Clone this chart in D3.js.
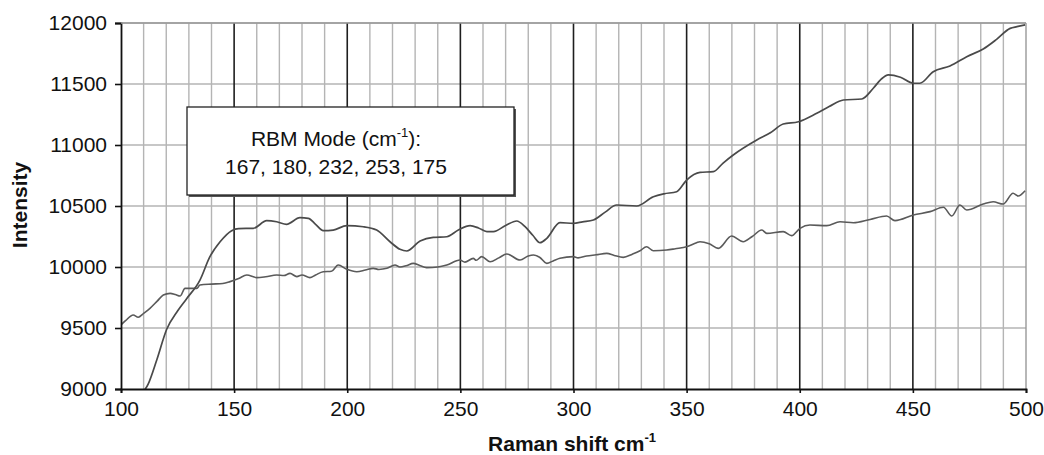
<!DOCTYPE html>
<html>
<head>
<meta charset="utf-8">
<script src="https://cdn.jsdelivr.net/npm/d3@7/dist/d3.min.js"></script>
<style>
  html, body { margin: 0; padding: 0; background: #fff; }
  svg { display: block; }
  text { font-family: "Liberation Sans", Arial, sans-serif; fill: #111; }
</style>
</head>
<body>
<svg id="chart" width="1044" height="455"></svg>
<script>
// ---- data ----
const xTicks = [100, 150, 200, 250, 300, 350, 400, 450, 500];
const yTicks = [9000, 9500, 10000, 10500, 11000, 11500, 12000];
const xMinorTicks = d3.range(100, 501, 10);

const shiftUpper = [108, 112, 115.8, 120.2, 125, 129, 134.9, 139.3, 143.8, 148.9, 152, 158.5, 164.4, 168.8, 173.2, 179.1, 182.8, 186, 189.4, 193.8, 199.8, 207.1, 213, 218.9, 223.3, 226.3, 232.2, 238, 244, 249.1, 254.3, 258, 261.7, 264.6, 270, 274.9, 278.6, 282, 285.2, 288.2, 294, 299.9, 304, 308.8, 314, 319.1, 327.9, 335.3, 340, 345.6, 350, 355.9, 361.8, 366, 370.6, 381, 387, 392.7, 399.4, 407.5, 413, 419.3, 427.4, 432.5, 436, 439.2, 444.5, 450.2, 453.1, 459, 466.4, 473.8, 481.1, 487, 493, 496, 499.6];
const intensityUpper = [8940, 9040, 9238, 9490, 9640, 9740, 9893, 10085, 10207, 10298, 10315, 10317, 10380, 10371, 10350, 10404, 10399, 10350, 10298, 10303, 10339, 10330, 10303, 10207, 10145, 10131, 10213, 10243, 10248, 10303, 10339, 10320, 10290, 10290, 10340, 10377, 10330, 10260, 10199, 10235, 10363, 10358, 10370, 10385, 10450, 10508, 10500, 10576, 10600, 10617, 10713, 10776, 10781, 10850, 10918, 11041, 11100, 11172, 11191, 11260, 11315, 11369, 11377, 11465, 11540, 11574, 11555, 11506, 11506, 11601, 11648, 11724, 11787, 11866, 11956, 11970, 11984];

const shiftLower = [100, 102, 105.4, 107.6, 110, 112.8, 116, 118.7, 121.7, 124, 126.1, 128.3, 133.5, 134.9, 140, 145, 148.2, 152, 155.6, 160, 164, 168.8, 172, 174.7, 177.7, 180, 183.5, 186, 189.4, 193, 196, 199.8, 204.2, 208, 211.5, 214, 217.5, 221.1, 223.3, 226, 229.2, 232, 235.1, 240, 244, 249.8, 252, 255.7, 257, 259.4, 263.1, 267, 270.5, 276.4, 280, 282.3, 285, 288.2, 291, 294, 299.9, 302, 305.8, 310, 314.7, 318, 322, 326, 329.4, 332.3, 335.3, 341.2, 345, 350, 354.4, 355.9, 360, 364, 369.9, 375, 379, 383.2, 385.4, 392.7, 396.4, 400.1, 404.5, 411.9, 417.8, 423.7, 431.1, 438.4, 442.1, 450.2, 457.6, 463.5, 467.2, 470.8, 473.8, 481.1, 485.5, 489.9, 494.3, 496.5, 499.6];
const intensityLower = [9525, 9560, 9607, 9588, 9620, 9661, 9720, 9770, 9784, 9775, 9762, 9825, 9825, 9852, 9860, 9865, 9880, 9905, 9934, 9913, 9920, 9934, 9930, 9948, 9921, 9935, 9913, 9935, 9961, 9965, 10016, 9981, 9961, 9975, 9989, 9980, 9989, 10016, 10000, 10010, 10030, 10012, 9995, 10000, 10016, 10057, 10040, 10071, 10055, 10085, 10043, 10075, 10107, 10057, 10090, 10098, 10080, 10030, 10050, 10071, 10085, 10075, 10090, 10100, 10112, 10095, 10079, 10105, 10133, 10166, 10133, 10139, 10150, 10166, 10199, 10207, 10190, 10153, 10254, 10207, 10250, 10303, 10276, 10290, 10257, 10317, 10344, 10339, 10371, 10363, 10390, 10418, 10380, 10426, 10454, 10490, 10418, 10508, 10467, 10516, 10535, 10516, 10604, 10582, 10625];

const legendLine1 = "RBM Mode (cm";
const legendLine2 = "167, 180, 232, 253, 175";

// ---- layout ----
const svg = d3.select("#chart");
const mLeft = 121, mRight = 1026, mTop = 23, mBottom = 389;

const x = d3.scaleLinear().domain([100, 500]).range([mLeft, mRight]);
const y = d3.scaleLinear().domain([9000, 12000]).range([mBottom, mTop]);

const defs = svg.append("defs");
defs.append("clipPath").attr("id", "clip")
  .append("rect").attr("x", mLeft).attr("y", mTop).attr("width", mRight - mLeft).attr("height", mBottom - mTop);

// minor vertical grid
svg.append("g").selectAll("line").data(xMinorTicks.filter(d => d % 50 !== 0)).join("line")
  .attr("x1", d => x(d)).attr("x2", d => x(d)).attr("y1", mTop).attr("y2", mBottom)
  .attr("stroke", "#b4b4b4").attr("stroke-width", 1.4);

// horizontal grid
svg.append("g").selectAll("line").data(yTicks.filter(d => d !== 9000)).join("line")
  .attr("x1", mLeft).attr("x2", mRight).attr("y1", d => y(d)).attr("y2", d => y(d))
  .attr("stroke", "#b4b4b4").attr("stroke-width", 1.4);

// right border
svg.append("line").attr("x1", mRight).attr("x2", mRight).attr("y1", mTop).attr("y2", mBottom)
  .attr("stroke", "#999").attr("stroke-width", 1.4);

// major vertical grid
svg.append("g").selectAll("line").data(xTicks.filter(d => d !== 100 && d !== 500)).join("line")
  .attr("x1", d => x(d)).attr("x2", d => x(d)).attr("y1", mTop).attr("y2", mBottom)
  .attr("stroke", "#1e1e1e").attr("stroke-width", 1.6);

// series
const line = d3.line().x(d => x(d[0])).y(d => y(d[1])).curve(d3.curveMonotoneX);
const lowerData = shiftLower.map((s, i) => [s, intensityLower[i]]);
const upperData = shiftUpper.map((s, i) => [s, intensityUpper[i]]);
const plot = svg.append("g").attr("clip-path", "url(#clip)");
plot.append("path").datum(lowerData).attr("d", line)
  .attr("fill", "none").attr("stroke", "#5a5a5a").attr("stroke-width", 1.6).attr("stroke-linejoin", "round");
plot.append("path").datum(upperData).attr("d", line)
  .attr("fill", "none").attr("stroke", "#4a4a4a").attr("stroke-width", 1.7).attr("stroke-linejoin", "round");

// axes
const yAxis = svg.append("g").attr("transform", `translate(${mLeft},0)`)
  .call(d3.axisLeft(y).tickValues(yTicks).tickFormat(d3.format("d")).tickSize(6).tickPadding(8));
const xAxis = svg.append("g").attr("transform", `translate(0,${mBottom})`)
  .call(d3.axisBottom(x).tickValues(xTicks).tickFormat(d3.format("d")).tickSize(4).tickPadding(8));
[yAxis, xAxis].forEach(a => {
  a.select(".domain").attr("stroke", "#111").attr("stroke-width", 1.8);
  a.selectAll(".tick line").attr("stroke", "#111").attr("stroke-width", 1.6);
  a.selectAll(".tick text").attr("font-size", 21).attr("fill", "#111")
    .style("font-family", "'Liberation Sans', Arial, sans-serif");
});
// top border
svg.append("line").attr("x1", mLeft).attr("x2", mRight).attr("y1", mTop).attr("y2", mTop)
  .attr("stroke", "#999").attr("stroke-width", 1.4);

// axis titles
const xt = svg.append("text").attr("x", 572).attr("y", 451).attr("text-anchor", "middle")
  .attr("font-size", 21).attr("font-weight", "bold");
xt.append("tspan").text("Raman shift cm");
xt.append("tspan").attr("dy", -9).attr("font-size", 13).text("-1");

svg.append("text").attr("transform", "translate(27,205) rotate(-90)").attr("text-anchor", "middle")
  .attr("font-size", 21).attr("font-weight", "bold").text("Intensity");

// legend box
const bx = 187, by = 107, bw = 327, bh = 88;
svg.append("rect").attr("x", bx + 2).attr("y", by + 2).attr("width", bw).attr("height", bh).attr("fill", "#555");
svg.append("rect").attr("x", bx).attr("y", by).attr("width", bw).attr("height", bh)
  .attr("fill", "#fff").attr("stroke", "#222").attr("stroke-width", 1.3);
const l1 = svg.append("text").attr("x", 336).attr("y", 146).attr("text-anchor", "middle").attr("font-size", 21);
l1.append("tspan").text(legendLine1);
l1.append("tspan").attr("dy", -9).attr("font-size", 13).text("-1");
l1.append("tspan").attr("dy", 9).text("):");
svg.append("text").attr("x", 336).attr("y", 174).attr("text-anchor", "middle").attr("font-size", 21).text(legendLine2);
</script>
</body>
</html>
